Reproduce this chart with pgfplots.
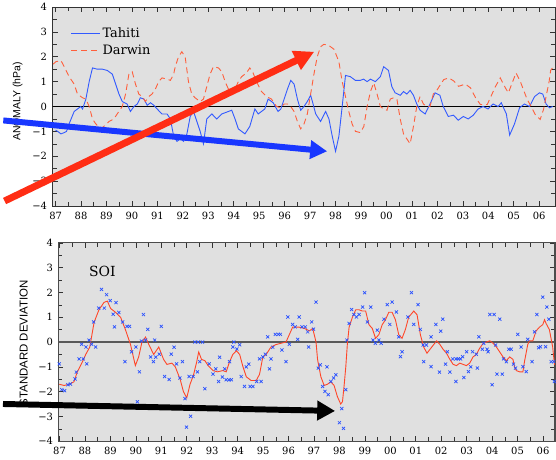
\documentclass[border=0pt]{standalone}
\usepackage{fontspec}
\setmainfont{DejaVu Serif}
\newfontfamily\labelsans{Liberation Sans}
\usepackage{pgfplots}
\pgfplotsset{compat=1.18}
\usetikzlibrary{arrows.meta}
\definecolor{bggray}{RGB}{224,224,224}
\definecolor{tahiti}{RGB}{50,90,255}
\definecolor{darwin}{RGB}{255,95,60}
\definecolor{soiline}{RGB}{255,70,40}
\definecolor{soimark}{RGB}{40,80,255}
\definecolor{arrowblue}{RGB}{25,55,255}
\definecolor{arrowred}{RGB}{255,45,20}
\pgfplotsset{
  panel/.style={
    scale only axis,
    axis background/.style={fill=bggray},
    ymin=-4, ymax=4,
    ytick={-4,...,4},
    yticklabels={−4,−3,−2,−1,0,1,2,3,4},
    minor y tick num=1,
    xtick={87,...,106},
    xticklabels={87,88,89,90,91,92,93,94,95,96,97,98,99,00,01,02,03,04,05,06},
    minor x tick num=1,
    tick align=inside,
    major tick length=5pt,
    minor tick length=4pt,
    tick style={black!80, line width=0.6pt},
    axis line style={black!80, line width=0.8pt},
    ticklabel style={font=\fontsize{10}{12}\selectfont},
    xticklabel style={yshift=-2.5pt},
    yticklabel style={xshift=-2pt},
  }
}
\begin{document}
\begin{tikzpicture}
\path (0pt,0pt) rectangle (556pt,462pt);
% ---------------- top panel ----------------
\begin{axis}[panel, at={(50pt,255pt)}, anchor=south west,
  width=505pt, height=200pt, xmin=86.88, xmax=106.62,
  legend style={at={(0.036,0.905)}, anchor=north west, draw=none, fill=none,
    font=\fontsize{13}{15}\selectfont, row sep=2pt, inner sep=0pt,
    cells={anchor=west}},
  legend image code/.code={\draw[#1] (0pt,0pt) -- (29pt,0pt);}]
\addplot[black, line width=0.8pt, forget plot] coordinates {(86,0) (107,0)};
\addplot[tahiti, line width=0.9pt] coordinates {
(87.0,-0.95) (87.08,-1.0) (87.21,-1.1) (87.34,-1.05) (87.43,-1.0) (87.53,-0.7)
(87.73,-0.2) (87.86,-0.1) (87.99,0.0) (88.06,-0.1) (88.19,0.3) (88.32,1.0)
(88.45,1.55) (88.64,1.5) (88.84,1.5) (89.03,1.45) (89.23,1.3) (89.36,0.9)
(89.49,0.5) (89.62,0.2) (89.81,0.1) (89.94,-0.2) (90.08,0.0) (90.21,0.1)
(90.33,0.35) (90.47,0.3) (90.6,0.05) (90.73,0.15) (90.86,0.05) (90.99,-0.1)
(91.18,-0.3) (91.38,-0.3) (91.51,-0.5) (91.64,-1.2) (91.77,-1.4) (91.9,-1.3)
(92.03,-1.4) (92.16,-1.1) (92.29,-0.4) (92.42,-0.2) (92.55,-0.6) (92.68,-1.0)
(92.81,-1.5) (92.94,-0.5) (93.14,-0.3) (93.33,-0.5) (93.53,-0.3) (93.79,-0.2)
(93.92,-0.15) (94.05,-0.5) (94.18,-0.9) (94.44,-1.1) (94.63,-0.8) (94.83,-0.1)
(94.96,-0.3) (95.22,-0.1) (95.35,0.3) (95.55,0.15) (95.74,-0.2) (95.85,-0.1)
(95.98,0.3) (96.11,0.7) (96.24,1.05) (96.37,0.9) (96.5,0.3) (96.63,-0.15)
(96.76,0.0) (96.89,0.2) (97.02,0.45) (97.09,0.2) (97.22,-0.3) (97.41,-0.6)
(97.61,-0.2) (97.74,-0.5) (97.87,-1.2) (98.0,-1.8) (98.13,-1.2) (98.26,0.0)
(98.39,1.25) (98.58,1.2) (98.78,1.05) (98.97,1.05) (99.1,1.1) (99.24,1.0)
(99.37,1.1) (99.56,1.0) (99.76,1.2) (99.89,1.6) (100.08,1.45) (100.21,0.8)
(100.34,0.55) (100.54,0.45) (100.67,0.6) (100.8,0.5) (100.93,0.65) (101.06,0.45)
(101.19,0.1) (101.32,-0.15) (101.52,-0.3) (101.71,0.1) (101.91,0.55) (102.1,0.45)
(102.23,0.0) (102.43,-0.4) (102.63,-0.35) (102.82,-0.55) (103.02,-0.4) (103.21,-0.5)
(103.41,-0.35) (103.6,-0.1) (103.8,0.0) (103.99,-0.1) (104.19,0.1) (104.39,0.0)
(104.51,0.15) (104.71,-0.3) (104.84,-1.15) (105.03,-0.7) (105.23,-0.05) (105.42,0.1)
(105.62,0.0) (105.82,0.4) (106.01,0.55) (106.14,0.5) (106.27,0.1) (106.4,-0.05)
(106.53,0.0)};
\addplot[darwin, line width=0.9pt, dash pattern=on 6pt off 4pt] coordinates {
(86.9,1.7) (87.01,1.8) (87.21,1.85) (87.34,1.6) (87.53,1.2) (87.73,0.9) (87.86,0.5)
(88.06,0.35) (88.19,0.3) (88.32,0.0) (88.45,-0.5) (88.58,-0.7) (88.77,-0.9)
(88.9,-0.8) (89.1,-0.6) (89.29,-0.5) (89.42,-0.3) (89.62,0.0) (89.75,0.5)
(89.88,1.3) (90.01,1.4) (90.14,0.9) (90.27,0.5) (90.4,0.4) (90.53,0.2)
(90.66,0.4) (90.79,0.5) (90.92,0.7) (91.05,1.0) (91.18,1.15) (91.38,1.1)
(91.51,1.05) (91.64,1.3) (91.7,1.6) (91.83,2.0) (91.96,2.2) (92.09,2.0)
(92.22,1.0) (92.35,0.5) (92.48,0.35) (92.68,0.2) (92.81,0.3) (92.94,0.8)
(93.07,1.3) (93.2,1.6) (93.4,1.55) (93.53,1.4) (93.66,1.0) (93.79,0.7)
(93.92,0.5) (94.05,0.7) (94.18,1.0) (94.31,1.2) (94.5,1.35) (94.63,1.55)
(94.76,1.35) (94.89,1.0) (95.09,0.6) (95.29,0.4) (95.48,0.3) (95.68,0.0)
(95.85,-0.05) (95.98,0.1) (96.11,0.1) (96.24,0.0) (96.37,-0.2) (96.5,-0.6)
(96.63,-0.9) (96.76,-0.7) (96.89,-0.3) (97.02,0.5) (97.15,1.3) (97.28,2.0)
(97.41,2.4) (97.54,2.5) (97.74,2.45) (97.94,2.3) (98.13,1.8) (98.26,1.0)
(98.39,0.4) (98.52,-0.2) (98.65,-0.7) (98.78,-1.0) (98.98,-1.05) (99.11,-0.8)
(99.24,0.0) (99.37,0.6) (99.5,0.95) (99.63,0.5) (99.76,0.0) (99.89,-0.1)
(100.02,-0.15) (100.15,0.3) (100.28,0.35) (100.41,0.3) (100.54,-0.5) (100.67,-1.1)
(100.8,-1.3) (100.93,-1.5) (101.06,-0.8) (101.19,0.0) (101.32,0.4) (101.45,0.1)
(101.58,0.0) (101.71,0.0) (101.84,0.5) (101.97,0.64) (102.25,1.08) (102.44,1.15)
(102.64,1.03) (102.83,0.81) (103.1,0.9) (103.3,0.75) (103.5,0.35) (103.69,0.08)
(103.96,0.08) (104.08,0.35) (104.28,0.8) (104.47,1.15) (104.67,0.75) (104.79,0.55)
(104.94,0.95) (105.09,1.35) (105.26,1.0) (105.41,0.6) (105.52,0.3) (105.71,-0.05)
(105.84,-0.32) (106.04,-0.52) (106.17,-0.12) (106.3,0.55) (106.39,1.0) (106.45,1.45)
(106.55,1.6)};
\legend{Tahiti, Darwin}
\end{axis}
% ---------------- bottom panel ----------------
\begin{axis}[panel, at={(56pt,18.5pt)}, anchor=south west,
  width=499pt, height=199.5pt, xmin=86.96, xmax=106.47,
  axis line style={black!70, line width=1.2pt}]
\addplot[black!65, line width=1.6pt] coordinates {(86,0) (107,0)};
\addplot[soiline, line width=0.9pt] coordinates {
(86.99,-1.7) (87.18,-1.75) (87.38,-1.7) (87.57,-1.6) (87.7,-1.2) (87.9,-0.8)
(88.03,-0.5) (88.19,-0.2) (88.36,0.8) (88.55,1.3) (88.75,1.6) (88.88,1.65)
(89.01,1.35) (89.2,1.2) (89.4,1.0) (89.59,0.5) (89.79,-0.1) (89.98,-0.95)
(90.11,-0.6) (90.24,0.0) (90.38,0.2) (90.51,-0.1) (90.7,-0.5) (90.9,-0.2)
(91.09,-0.7) (91.22,-0.9) (91.42,-0.85) (91.55,-1.0) (91.74,-1.5) (91.87,-2.0)
(92.0,-2.25) (92.13,-1.7) (92.26,-1.35) (92.39,-0.8) (92.47,-0.4) (92.58,-0.7)
(92.71,-0.75) (92.84,-0.95) (93.03,-1.15) (93.2,-1.2) (93.42,-1.15) (93.55,-1.2)
(93.68,-0.8) (93.81,-0.5) (93.95,-0.35) (94.08,-0.5) (94.21,-1.0) (94.34,-1.4)
(94.53,-1.55) (94.73,-1.55) (94.86,-1.3) (94.99,-0.6) (95.12,-0.5) (95.31,-0.2)
(95.51,-0.1) (95.7,-0.05) (95.9,0.0) (96.03,0.3) (96.16,0.6) (96.42,0.6)
(96.62,0.55) (96.82,0.45) (96.95,0.55) (97.08,0.0) (97.14,-0.7) (97.27,-1.4)
(97.4,-1.75) (97.53,-1.7) (97.66,-1.6) (97.79,-1.75) (97.92,-2.2) (98.05,-2.5)
(98.12,-2.4) (98.18,-1.8) (98.25,-1.0) (98.31,-0.1) (98.38,0.6) (98.51,1.0)
(98.64,1.3) (98.77,1.3) (98.9,1.25) (99.03,1.25) (99.16,0.7) (99.29,0.55)
(99.42,0.15) (99.55,0.3) (99.68,0.7) (99.81,0.9) (99.94,1.2) (100.07,1.2)
(100.2,0.9) (100.33,0.3) (100.46,0.15) (100.59,0.5) (100.72,1.0) (100.92,1.25)
(101.05,1.1) (101.18,0.3) (101.31,-0.2) (101.44,-0.45) (101.63,-0.2) (101.82,0.05)
(101.95,-0.1) (102.08,-0.3) (102.21,-0.45) (102.34,-0.7) (102.47,-0.9) (102.6,-0.95)
(102.73,-0.85) (102.86,-0.9) (102.99,-0.95) (103.12,-0.85) (103.25,-0.6) (103.38,-0.5)
(103.51,-0.25) (103.65,-0.05) (103.78,0.0) (103.91,0.05) (104.04,-0.05) (104.17,-0.2)
(104.3,-0.4) (104.43,-0.6) (104.56,-0.75) (104.69,-0.6) (104.82,-0.7) (104.88,-1.0)
(104.95,-1.15) (105.08,-1.2) (105.21,-1.2) (105.27,-0.8) (105.4,-0.1) (105.47,0.05)
(105.6,0.05) (105.73,0.45) (105.86,0.6) (105.99,0.7) (106.06,0.9) (106.12,0.75)
(106.25,0.5) (106.38,-0.2) (106.45,-0.9) (106.51,-0.85)};
\addplot[only marks, mark=x, mark size=2.2pt, soimark, mark options={line width=0.7pt}] coordinates {
(86.99,-0.88) (87.09,-1.92) (87.2,-1.96) (87.33,-1.72) (87.43,-1.69) (87.61,-1.49)
(87.66,-1.21) (87.77,-0.68) (87.93,-0.68) (88.07,-0.88) (87.87,-0.09) (88.04,-0.2)
(88.16,0.08) (88.26,-0.09) (88.42,-0.2) (88.34,0.81) (88.54,1.37) (88.65,2.12)
(88.76,1.37) (88.85,1.91) (88.99,1.67) (89.22,1.59) (89.11,1.12) (89.33,1.19)
(89.16,0.61) (89.48,0.81) (89.65,0.63) (89.75,0.63) (89.57,-0.79) (89.83,-0.39)
(90.0,-0.2) (90.14,-1.2) (90.06,-2.41) (90.3,1.11) (90.22,0.04) (90.38,0.08)
(90.47,0.51) (90.58,-0.6) (90.69,-0.79) (90.74,0.08) (90.78,-0.61) (90.92,-0.49)
(91.0,0.63) (91.13,-1.39) (91.31,-1.51) (91.39,-0.49) (91.5,-0.21) (91.6,-0.88)
(91.73,-1.45) (91.83,-0.79)
(91.93,-2.28) (91.99,-3.43) (92.15,-2.99) (92.09,-1.39) (92.25,-1.39) (92.42,-1.2)
(92.32,0.0) (92.45,0.0) (92.62,0.0) (92.51,-0.79) (92.71,-1.88) (92.88,-0.88)
(93.03,-1.29) (93.14,-1.08) (93.25,-1.59) (93.29,-0.61) (93.4,-1.41) (93.49,-1.08)
(93.55,-1.52) (93.66,-1.52) (93.75,-1.52) (93.68,-0.79) (93.81,-0.2) (93.85,0.0)
(93.97,-0.28) (94.08,-0.11) (94.14,-1.39) (94.27,-1.79) (94.34,-1.0) (94.44,-0.89)
(94.49,-1.79) (94.6,-1.79) (94.75,-1.59) (94.92,-1.59) (94.86,-0.68) (94.99,-0.6)
(95.09,-0.49) (95.18,0.21) (95.25,-1.08) (95.31,-0.68) (95.38,-0.21) (95.48,0.31)
(95.6,0.31) (95.68,0.31) (95.74,-0.32) (95.9,-0.79) (95.97,1.01) (96.03,-0.09)
(96.16,0.71) (96.26,0.61) (96.36,0.11) (96.42,1.01) (96.53,0.61) (96.66,0.61)
(96.75,0.41) (96.79,-0.2)
(96.91,0.81) (96.98,0.52) (97.08,1.61) (97.17,-1.05) (97.25,-0.92) (97.51,-1.0)
(97.34,-1.79) (97.43,-1.99) (97.56,-2.12) (97.66,-1.59) (97.77,-1.45) (97.86,-1.32)
(98.25,-1.92) (98.09,-2.68) (98.0,-3.25) (98.16,-3.48) (98.29,0.08) (98.38,0.75)
(98.48,1.31) (98.57,1.11) (98.67,1.01) (98.77,1.11) (98.91,1.41) (98.99,1.99)
(99.1,0.81) (99.23,1.41) (99.32,0.08) (99.41,-0.05) (99.49,0.48) (99.55,0.08)
(99.64,-0.05) (99.75,0.92) (99.88,1.51) (99.98,0.71) (100.07,1.61) (100.24,1.21)
(100.33,0.21) (100.46,-0.39) (100.4,-0.59) (100.69,1.01) (100.83,1.99) (100.92,0.71)
(101.09,1.51) (101.18,0.51) (101.29,-0.12) (101.31,-0.79) (101.42,-0.12) (101.6,0.21)
(101.6,-0.99)
(101.79,0.71) (101.98,0.44) (102.06,0.92) (101.93,-1.21) (102.17,-0.89) (102.24,-0.39)
(102.34,-1.21) (102.45,-0.68) (102.58,-1.59) (102.58,-0.68) (102.67,-0.68) (102.76,-0.68)
(102.84,-0.59) (102.89,-1.43) (103.0,-0.39) (103.07,-1.19) (103.16,-1.0) (103.23,-0.39)
(103.38,-0.49) (103.42,-1.05) (103.48,0.21) (103.62,-0.29) (103.67,-0.05) (103.8,-0.29)
(103.84,-0.39) (103.91,1.11) (104.08,1.11) (104.3,0.92) (104.0,-1.72) (104.14,-0.12)
(104.19,-1.29) (104.4,-1.29) (104.45,-0.68) (104.56,-0.79) (104.66,-0.29) (104.75,-0.29)
(104.84,-0.89) (104.92,-1.05) (105.01,0.31) (105.14,-0.2) (105.21,-0.99) (105.34,-1.19)
(105.4,0.11) (105.57,-0.79) (105.67,0.41) (105.76,1.11) (105.83,-0.23) (105.9,-0.19)
(105.99,1.81) (106.1,-0.19) (106.15,1.41) (106.23,0.92) (106.32,-0.79) (106.42,-0.79)
(106.45,-1.59)};
\end{axis}
% ---------------- labels ----------------
\node[rotate=90, font=\labelsans\fontsize{10.5}{12}\selectfont] at (15pt,360pt) {ANOMALY (hPa)};
\node[rotate=90, font=\labelsans\fontsize{11.5}{13}\selectfont] at (21pt,117pt) {STANDARD DEVIATION};
\node[font=\fontsize{14}{16}\selectfont] at (100pt,189pt) {SOI};
% ---------------- annotation arrows ----------------
\draw[arrowblue, line width=6pt, -{Triangle[length=17pt,width=18pt]}] (0.5pt,341pt) -- (326pt,310pt);
\draw[arrowred, line width=7pt, -{Triangle[length=20pt,width=20pt]}] (1.8pt,260pt) -- (313pt,410pt);
\draw[black, line width=6pt, -{Triangle[length=18pt,width=19pt]}] (0.2pt,56pt) -- (334pt,49pt);
\end{tikzpicture}
\end{document}
